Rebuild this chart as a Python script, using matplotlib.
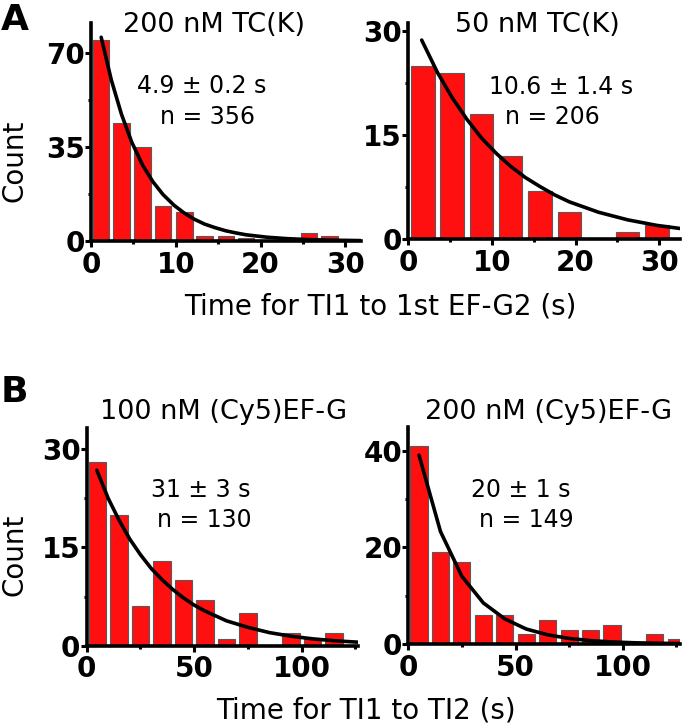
import matplotlib
matplotlib.use("Agg")
import matplotlib.pyplot as plt
from matplotlib.ticker import MultipleLocator

W, H = 682, 725

# panel A: time from TI1 to first EF-G2 binding
a1_title = "200 nM TC(K)"
a1_note = ["4.9 ± 0.2 s", "n = 356"]
a1_centers = [1.2, 3.6, 6.1, 8.5, 11.0, 13.4, 15.9, 18.3, 20.8, 23.2, 25.7, 28.1]
a1_counts = [75, 44, 35, 13, 11, 2, 2, 1, 0, 1, 3, 2]
a1_fit_t = [1.2, 2.4, 3.6, 4.8, 6.1, 7.3, 8.5, 9.8, 11.0, 12.2, 13.4, 14.6,
            15.9, 17.1, 18.3, 20.8, 23.2, 25.7, 28.1, 31.8]
a1_fit = [76.0, 60.0, 47.2, 36.9, 28.2, 22.1, 17.3, 13.3, 10.4, 8.1, 6.3, 5.0,
          3.8, 3.0, 2.3, 1.4, 0.86, 0.52, 0.32, 0.15]

a2_title = "50 nM TC(K)"
a2_note = ["10.6 ± 1.4 s", "n = 206"]
a2_centers = [1.75, 5.25, 8.75, 12.25, 15.75, 19.25, 22.75, 26.25, 29.75]
a2_counts = [25, 24, 18, 12, 7, 4, 0, 1, 2]
a2_fit_t = [1.6, 3.5, 5.25, 7.0, 8.75, 10.5, 12.25, 14.0, 15.75, 17.5, 19.25,
            22.75, 26.25, 29.75, 32.5]
a2_fit = [28.7, 24.0, 20.4, 17.3, 14.6, 12.4, 10.5, 8.9, 7.6, 6.4, 5.4,
          3.9, 2.8, 2.0, 1.56]

# panel B: time from TI1 to TI2
b1_title = "100 nM (Cy5)EF-G"
b1_note = ["31 ± 3 s", "n = 130"]
b1_centers = [5, 15, 25, 35, 45, 55, 65, 75, 85, 95, 105, 115]
b1_counts = [28, 20, 6, 13, 10, 7, 1, 5, 0, 2, 1, 2]
b1_fit_t = [4.7, 10, 15, 20, 25, 30, 35, 40, 45, 50, 55, 65, 75, 85, 95, 105, 115, 126]
b1_fit = [26.8, 22.5, 19.2, 16.3, 13.9, 11.8, 10.1, 8.6, 7.3, 6.2, 5.3, 3.8,
          2.8, 2.0, 1.45, 1.05, 0.76, 0.54]

b2_title = "200 nM (Cy5)EF-G"
b2_note = ["20 ± 1 s", "n = 149"]
b2_centers = [5, 15, 25, 35, 45, 55, 65, 75, 85, 95, 105, 115, 125]
b2_counts = [41, 19, 17, 6, 6, 2, 5, 3, 3, 4, 0, 2, 1]
b2_fit_t = [5, 15, 25, 35, 45, 55, 65, 75, 85, 95, 105, 115, 125, 126.7]
b2_fit = [39.1, 23.3, 14.0, 8.5, 5.2, 3.1, 1.9, 1.15, 0.7, 0.42, 0.26, 0.16, 0.1, 0.09]

xlabel_a = "Time for TI1 to 1st EF-G2 (s)"
xlabel_b = "Time for TI1 to TI2 (s)"

RED = "#fe1010"

plt.rcParams["font.family"] = "DejaVu Sans"
fig = plt.figure(figsize=(W / 100, H / 100), dpi=100)


def px(x, y):
    return x / W, 1 - y / H


def panel(left, right, bottom, top, xlim, ylim, xmaj, xmin, ymaj, ymin,
          centers, counts, width, fit_t, fit):
    ax = fig.add_axes([left / W, 1 - bottom / H, (right - left) / W, (bottom - top) / H])
    ax.bar(centers, counts, width=width, color=RED, edgecolor="#5a5a5a", linewidth=0.8, zorder=2)
    ax.plot(fit_t, fit, color="black", lw=2.6, zorder=3, solid_capstyle="round")
    ax.set_xlim(*xlim)
    ax.set_ylim(*ylim)
    for s in ("top", "right"):
        ax.spines[s].set_visible(False)
    for s in ("left", "bottom"):
        ax.spines[s].set_linewidth(2.6)
        ax.spines[s].set_zorder(4)
    ax.xaxis.set_major_locator(MultipleLocator(xmaj))
    ax.xaxis.set_minor_locator(MultipleLocator(xmin))
    ax.yaxis.set_major_locator(MultipleLocator(ymaj))
    ax.yaxis.set_minor_locator(MultipleLocator(ymin))
    ax.tick_params(which="major", direction="out", length=4, width=2.2)
    ax.tick_params(which="minor", direction="out", length=2.5, width=2.2)
    ax.tick_params(axis="x", which="major", pad=3)
    ax.tick_params(axis="y", which="major", pad=0.5)
    for lab in ax.get_xticklabels() + ax.get_yticklabels():
        lab.set_fontsize(20)
        lab.set_fontweight("bold")
    ax.patch.set_alpha(0)
    return ax


panel(91, 360.7, 241, 23.3, (0, 31.8), (0, 81.2), 10, 5, 35, 17.5,
      a1_centers, a1_counts, 1.95, a1_fit_t, a1_fit)
panel(408.3, 680, 239.3, 22.7, (0, 32.5), (0, 31.2), 10, 5, 15, 7.5,
      a2_centers, a2_counts, 2.8, a2_fit_t, a2_fit)
panel(86.7, 357.6, 645.7, 428.3, (0, 126), (0, 33.2), 50, 25, 15, 7.5,
      b1_centers, b1_counts, 8.0, b1_fit_t, b1_fit)
panel(408.3, 680, 644, 426.7, (0, 126.7), (0, 45.0), 50, 25, 20, 10,
      b2_centers, b2_counts, 8.0, b2_fit_t, b2_fit)

# panel letters
fig.text(*px(15, 19.5), "A", fontsize=26, fontweight="bold", ha="center", va="center")
fig.text(*px(14, 392.5), "B", fontsize=26, fontweight="bold", ha="center", va="center")

# titles
fig.text(*px(214, 32), a1_title, fontsize=19.5, ha="center", va="baseline")
fig.text(*px(537, 32), a2_title, fontsize=19.5, ha="center", va="baseline")
fig.text(*px(224, 419.3), b1_title, fontsize=19.5, ha="center", va="baseline")
fig.text(*px(549, 419.3), b2_title, fontsize=19.5, ha="center", va="baseline")

# fit annotations
notes = [(a1_note, 202, 207, 93.3, 124), (a2_note, 561, 552, 94, 124),
         (b1_note, 201, 204, 496.7, 526.7), (b2_note, 521, 526, 496.7, 526.7)]
for txt, x1, x2, y1, y2 in notes:
    fig.text(*px(x1, y1), txt[0], fontsize=17, ha="center", va="baseline")
    fig.text(*px(x2, y2), txt[1], fontsize=17, ha="center", va="baseline")

# axis labels
fig.text(*px(380, 315), xlabel_a, fontsize=20, ha="center", va="baseline")
fig.text(*px(366, 718), xlabel_b, fontsize=20, ha="center", va="baseline")
fig.text(*px(15, 161), "Count", fontsize=20, rotation=90, ha="center", va="center")
fig.text(*px(15, 555), "Count", fontsize=20, rotation=90, ha="center", va="center")

fig.savefig("out.png", dpi=100)
